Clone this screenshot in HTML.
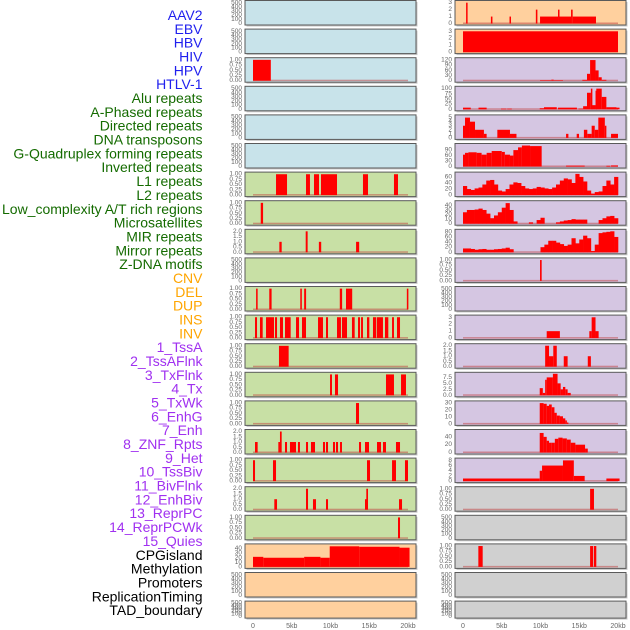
<!DOCTYPE html>
<html><head><meta charset="utf-8"><style>
html,body{margin:0;padding:0;background:#fff;}
svg{display:block;font-family:"Liberation Sans",sans-serif;}
</style></head><body>
<svg id="chart" width="630" height="630" viewBox="0 0 630 630" xmlns="http://www.w3.org/2000/svg"></svg>
<script>
// ---------- data (segments: [startKb, endKb, value]; bins: values per 0.5kb) ----------
const labels = ["AAV2","EBV","HBV","HIV","HPV","HTLV-1","Alu repeats","A-Phased repeats","Directed repeats","DNA transposons","G-Quadruplex forming repeats","Inverted repeats","L1 repeats","L2 repeats","Low_complexity A/T rich regions","Microsatellites","MIR repeats","Mirror repeats","Z-DNA motifs","CNV","DEL","DUP","INS","INV","1_TssA","2_TssAFlnk","3_TxFlnk","4_Tx","5_TxWk","6_EnhG","7_Enh","8_ZNF_Rpts","9_Het","10_TssBiv","11_BivFlnk","12_EnhBiv","13_ReprPC","14_ReprPCWk","15_Quies","CPGisland","Methylation","Promoters","ReplicationTiming","TAD_boundary"];
const labelColors = ["#1f1fee","#1f1fee","#1f1fee","#1f1fee","#1f1fee","#1f1fee","#146b00","#146b00","#146b00","#146b00","#146b00","#146b00","#146b00","#146b00","#146b00","#146b00","#146b00","#146b00","#146b00","#ffa500","#ffa500","#ffa500","#ffa500","#ffa500","#a030f0","#a030f0","#a030f0","#a030f0","#a030f0","#a030f0","#a030f0","#a030f0","#a030f0","#a030f0","#a030f0","#a030f0","#a030f0","#a030f0","#a030f0","#000","#000","#000","#000","#000"];
const xTicks = [0,5,10,15,20];
const xTickLabels = ["0","5kb","10kb","15kb","20kb"];

const L3 = [[0,2.3,1]];
const L7 = [[2.97,4.39,1],[6.84,7.35,1],[7.87,8.52,1],[8.77,10.84,1],[14.19,14.84,1],[18.19,18.71,1]];
const L8 = [[1.0,1.3,1]];
const L9 = [[3.4,3.7,1],[6.8,7.05,2],[8.5,8.8,1],[13.3,13.7,1]];
const L11 = [[0.4,0.6,1],[2.1,2.4,1],[6.1,6.3,1],[6.6,6.85,1],[11.2,11.5,1],[12.0,12.8,1],[19.85,20.05,1]];
const L12 = [[0.26,0.52,1],[0.9,1.25,1],[1.68,2.71,1],[2.84,3.1,1],[3.48,3.87,1],[4.13,4.86,1],[5.55,5.94,1],[6.32,6.84,1],[8.39,9.03,1],[9.42,9.68,1],[10.84,11.35,1],[11.48,12.13,1],[12.77,13.12,1],[13.55,13.81,1],[13.94,14.19,1],[14.71,15.01,1],[15.48,15.91,1],[16.0,16.77,1],[17.03,17.46,1],[17.94,18.19,1],[18.58,18.97,1]];
const L13 = [[3.35,4.6,1]];
const L14 = [[9.94,10.19,1],[10.58,10.97,1],[17.16,18.19,1],[19.1,19.74,1]];
const L15 = [[13.29,13.68,1]];
const L16 = [[0.26,0.6,1],[3.27,3.48,1],[3.48,3.7,2],[4.13,4.39,1],[4.77,5.55,1],[5.8,6.06,1],[6.84,7.1,1],[7.48,8.0,1],[9.03,9.29,1],[9.42,9.68,1],[10.32,10.58,1],[10.71,10.97,1],[11.23,11.48,1],[13.68,13.94,1],[14.45,14.97,1],[16.0,16.52,1],[16.77,17.16,1],[18.45,18.97,1]];
const L17 = [[0,0.26,1],[2.58,2.97,1],[14.71,15.1,1],[17.94,18.45,1],[19.61,20,1]];
const L18 = [[2.75,3.1,1],[6.84,7.1,2],[7.74,8.13,1],[9.42,9.68,1],[14.45,14.62,1],[14.62,14.84,2],[18.84,19.23,1]];
const L19 = [[18.71,18.97,1]];
const L20 = [[0,1.33,22],[1.33,6.6,20],[6.6,8.7,22],[8.7,9.9,20],[9.9,13.7,45],[13.7,18.9,44],[18.9,20.2,42]];

const R1 = [[0.4,0.56,3],[3.6,3.8,1],[6.0,6.15,1],[9.4,9.6,2],[9.94,12.26,1],[12.26,12.43,2],[12.43,13.94,1],[13.94,14.15,2],[14.15,17.16,1]];
const R2 = [[0,20,3]];
const R3 = [[9.94,11.4,3],[11.4,11.7,6],[11.7,12.9,3],[15.4,16.0,5],[16.0,16.4,40],[16.4,17.1,120],[17.1,17.5,60],[17.5,17.9,20],[17.9,18.5,5]];
const R4 = [[0,1,8],[2,3.05,8],[4.9,5.6,3],[5.7,6.3,3],[9.9,10.45,5],[10.45,12.1,10],[12.26,14.7,8],[14.9,15.5,3],[15.5,16.0,15],[16.0,16.5,80],[16.5,16.6,100],[16.6,17.1,20],[17.1,17.2,90],[17.2,17.9,100],[17.9,18.5,60],[18.5,19.8,10],[19.8,20.2,8]];
const R5 = [[0,0.26,3],[0.26,0.9,5],[0.9,1.55,4],[1.55,2.7,2],[2.7,3.05,1],[4.43,6.06,2],[6.06,6.9,1],[13.3,13.6,1],[14.67,14.97,1],[15.6,16.04,2],[16.04,16.6,1],[16.6,17.0,3],[17.0,17.46,2],[17.46,18.3,5],[18.3,18.5,3],[19.1,20,1]];
const R6 = [[0,0.26,65],[0.26,0.7,75],[0.7,1.76,78],[1.76,2.4,75],[2.4,3.05,65],[3.05,3.7,75],[3.7,5.0,85],[5.0,5.4,80],[5.4,6.06,65],[6.06,6.5,60],[6.5,7.1,90],[7.1,7.6,105],[7.6,8.65,115],[8.65,10.15,112],[13.3,15.7,5],[18.5,19.0,4],[19.1,20,6]];
const R7bins = [30,20,17,22,25,35,48,50,35,15,12,20,35,42,40,30,22,20,22,27,25,22,20,25,35,48,55,52,40,70,60,45,15,5,10,12,30,48,35,60];
const R8bins = [25,30,30,31,33,30,22,12,18,25,35,45,30,5,0,0,0,3,0,8,13,0,0,0,3,5,7,8,10,9,9,9,0,0,0,8,12,16,17,12];
const R9bins = [15,15,13,10,12,13,10,10,12,13,15,18,12,0,0,0,0,0,0,0,20,30,45,45,38,32,25,30,55,35,50,65,55,5,30,75,78,80,82,60];
const R10 = [[9.94,10.15,1]];
const R12 = [[10.8,12.5,1],[16.3,16.6,1],[16.6,17.1,3],[17.1,17.5,1]];
const R13 = [[10.6,11.1,2],[11.1,11.65,1],[11.65,12.1,2],[13.0,13.5,1],[16.1,16.5,1]];
const R14 = [[9.9,10.3,3],[10.3,10.6,1],[10.6,10.8,6.5],[10.8,11.6,7.5],[11.6,12.2,9],[12.2,12.6,5],[12.6,12.9,2.5],[12.9,13.2,3.5],[13.2,13.5,2.5],[13.5,13.9,1]];
const R15 = [[9.9,10.4,30],[10.4,10.8,29],[10.8,11.1,26],[11.1,11.45,28],[11.45,11.8,24],[11.8,12.1,16],[12.1,12.5,12],[12.5,12.9,11],[12.9,13.2,8],[13.2,13.4,5],[13.4,13.6,2]];
const R16 = [[9.9,10.4,50],[10.4,10.8,40],[10.8,11.1,30],[11.1,11.45,25],[11.45,11.85,25],[11.85,12.3,35],[12.3,12.85,38],[12.85,13.4,36],[13.4,13.9,33],[13.9,14.5,25],[14.5,15.75,20],[15.75,16.1,10]];
const R17 = [[0,9.9,1],[9.9,10.2,4],[10.2,12.9,6],[12.9,14.3,8],[14.3,15.7,2],[18.5,20.2,1]];
const R18 = [[16.4,16.9,1]];
const R20 = [[1.98,2.54,1],[16.4,16.8,1],[16.9,17.2,1]];

// ---------- layout ----------
const BLUE="#c8e3ea", GREEN="#c8e0a5", ORANGE="#ffd09e", PURPLE="#d5c6e2", GREY="#d0d0d0";
const T_EMPTY=["500","400","300","200","100","0"], V_EMPTY=[500,400,300,200,100,0];
const T_1=["1.00","0.75","0.50","0.25","0.00"], V_1=[1,0.75,0.5,0.25,0];
const T_2=["2.0","1.5","1.0","0.5","0.0"], V_2=[2,1.5,1,0.5,0];
const T_3=["3","2","1","0"], V_3=[3,2,1,0];
function P(bg, seg, bins, max, tl, tv){return {bg,seg,bins,max,tl,tv};}
const E=(bg)=>P(bg,null,null,520,T_EMPTY,V_EMPTY);
const left=[E(BLUE),E(BLUE),P(BLUE,L3,null,1.03,T_1,V_1),E(BLUE),E(BLUE),E(BLUE),
 P(GREEN,L7,null,1.03,T_1,V_1),P(GREEN,L8,null,1.03,T_1,V_1),P(GREEN,L9,null,2.05,T_2,V_2),E(GREEN),
 P(GREEN,L11,null,1.03,T_1,V_1),P(GREEN,L12,null,1.03,T_1,V_1),P(GREEN,L13,null,1.03,T_1,V_1),P(GREEN,L14,null,1.03,T_1,V_1),
 P(GREEN,L15,null,1.03,T_1,V_1),P(GREEN,L16,null,2.05,T_2,V_2),P(GREEN,L17,null,1.03,T_1,V_1),P(GREEN,L18,null,2.05,T_2,V_2),
 P(GREEN,L19,null,1.03,T_1,V_1),P(ORANGE,L20,null,47,["40","30","20","10","0"],[40,30,20,10,0]),E(ORANGE),E(ORANGE)];
const right=[P(ORANGE,R1,null,3.1,T_3,V_3),P(ORANGE,R2,null,3.1,T_3,V_3),
 P(PURPLE,R3,null,125,["120","90","60","30","0"],[120,90,60,30,0]),
 P(PURPLE,R4,null,104,["100","75","50","25","0"],[100,75,50,25,0]),
 P(PURPLE,R5,null,5.3,["5","4","3","2","1","0"],[5,4,3,2,1,0]),
 P(PURPLE,R6,null,118,["90","60","30","0"],[90,60,30,0]),
 P(PURPLE,null,R7bins,71,["60","40","20","0"],[60,40,20,0]),
 P(PURPLE,null,R8bins,47,["40","30","20","10","0"],[40,30,20,10,0]),
 P(PURPLE,null,R9bins,84,["80","60","40","20","0"],[80,60,40,20,0]),
 P(PURPLE,R10,null,1.03,T_1,V_1),E(PURPLE),
 P(PURPLE,R12,null,3.1,T_3,V_3),P(PURPLE,R13,null,2.05,T_2,V_2),
 P(PURPLE,R14,null,9,["7.5","5.0","2.5","0.0"],[7.5,5,2.5,0]),
 P(PURPLE,R15,null,31,["30","20","10","0"],[30,20,10,0]),
 P(PURPLE,R16,null,55,["40","20","0"],[40,20,0]),
 P(PURPLE,R17,null,8.3,["8","6","4","2","0"],[8,6,4,2,0]),
 P(GREY,R18,null,1.03,T_1,V_1),E(GREY),P(GREY,R20,null,1.03,T_1,V_1),E(GREY),E(GREY)];

const NS="http://www.w3.org/2000/svg";
const svg=document.getElementById('chart');
function mk(tag,attrs,parent){const e=document.createElementNS(NS,tag);for(const k in attrs)e.setAttribute(k,attrs[k]);(parent||svg).appendChild(e);return e;}

// labels
labels.forEach((t,i)=>{
  const e=mk('text',{x:202.5,y:15+i*13.84,'text-anchor':'end','dominant-baseline':'central','font-size':14,fill:labelColors[i]});
  
  
  e.textContent=t;
});

function drawColumn(panels, px0, px1, x0kb, colName){
  const xs = kb => x0kb + kb*7.75;
  panels.forEach((p,i)=>{
    const top=0.5+i*28.6, h=(i===21?17:24.5), bot=top+h;
    const g=mk('g',{});
    
    
    mk('rect',{x:px0+1.5,y:top+1.5,width:px1-px0,height:h,fill:'#c8c8c8'},g);
    mk('rect',{x:px0,y:top,width:px1-px0,height:h,fill:p.bg,stroke:'#5a5a5a','stroke-width':1},g);
    const ys = v => bot-1.5 - v/p.max*(h-3);
    // ticks
    p.tl.forEach((t,k)=>{
      const e=mk('text',{x:px0-3,y:ys(p.tv[k]),'text-anchor':'end','dominant-baseline':'central','font-size':6.5,fill:'#666'},g);
      
      
      e.textContent=t;
    });
    const hasData = p.seg || p.bins;
    if(hasData){
      mk('rect',{x:xs(0),y:bot-2.5,width:xs(20)-xs(0),height:1.5,fill:'#c0404080'},g);
    }
    if(p.seg){
      p.seg.forEach(s=>{
        const y=ys(s[2]);
        const r=mk('rect',{x:xs(s[0]),y:y,width:Math.max(1.5,xs(s[1])-xs(s[0])),height:Math.max(0,bot-1.5-y),fill:'#ff0000'},g);
        
        
      });
    }
    if(p.bins){
      p.bins.forEach((v,k)=>{
        const y=ys(v);
        const r=mk('rect',{x:xs(k*0.5),y:y,width:xs(0.5)-xs(0)+0.3,height:Math.max(0,bot-1.5-y),fill:'#ff0000'},g);
        
        
      });
    }
  });
  xTicks.forEach((k,i)=>{
    const e=mk('text',{x:xs(k),y:628,'text-anchor':'middle','font-size':7,fill:'#666'});
    
    
    e.textContent=xTickLabels[i];
  });
}
drawColumn(left,245,416,253,'left');
drawColumn(right,455,626,463,'right');
</script>
</body></html>
